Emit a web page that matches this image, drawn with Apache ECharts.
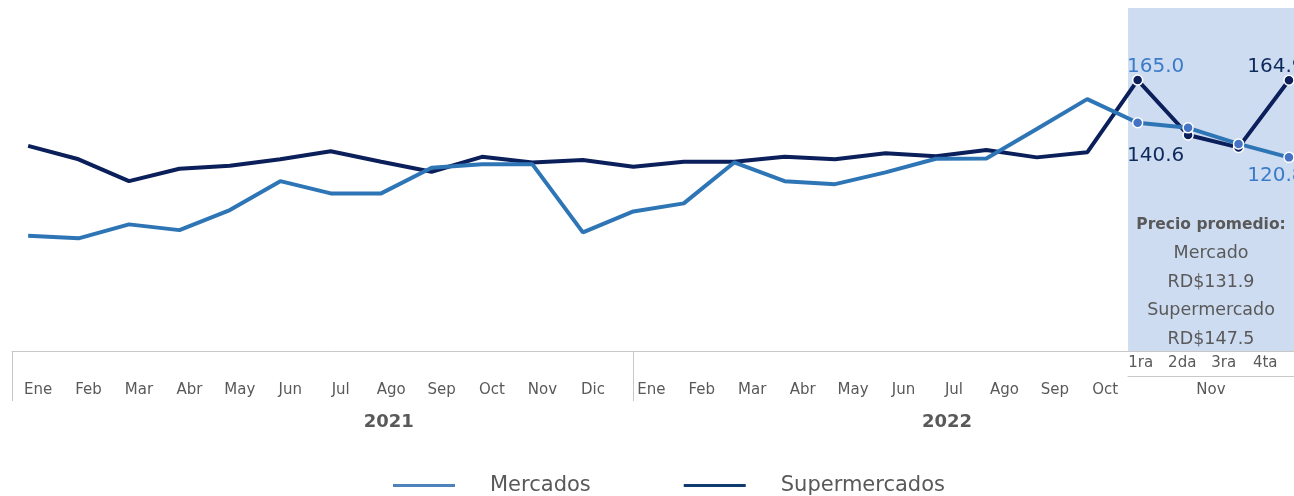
<!DOCTYPE html>
<html>
<head>
<meta charset="utf-8">
<script src="https://cdn.jsdelivr.net/npm/echarts@6/dist/echarts.min.js"></script>
<style>
	html, body { margin: 0; padding: 0; background: #fff; }
	#main { width: 1294px; height: 496px; }
</style>
</head>
<body>
<div id="main"></div>
<script type="text/javascript">
// etiquetas del eje
var meses2021 = ['Ene','Feb','Mar','Abr','May','Jun','Jul','Ago','Sep','Oct','Nov','Dic'];
var meses2022 = ['Ene','Feb','Mar','Abr','May','Jun','Jul','Ago','Sep','Oct'];
var semanas = ['1ra','2da','3ra','4ta'];
var mesSemanas = ['Nov'];
var anios = ['2021','2022'];

// precios (mensual 2021, mensual 2022, semanas de nov)
var mercados = [76.0, 74.5, 82.5, 79.2, 90.7, 107.2, 100.2, 100.2, 114.9, 116.8, 116.8, 77.9,
	89.9, 94.5, 117.9, 107.2, 105.5, 112.2, 120.0, 120.2, 137.0, 154.1,
	140.6, 137.7, 128.5, 120.8];
var supermercados = [127.4, 119.7, 107.2, 114.3, 116.0, 119.7, 124.3, 118.3, 112.6, 121.1, 117.9, 119.3,
	115.4, 118.3, 118.3, 121.1, 119.7, 123.1, 121.5, 125.0, 120.8, 123.7,
	165.0, 133.6, 126.5, 164.9];

// precio promedio
var promedioNombres = ['Mercado', 'Supermercado'];
var promedioValores = [131.9, 147.5];

var nMeses = meses2021.length + meses2022.length;
var gris = '#595959';
var fuente = 'DejaVu Sans';

function armarSerie(valores, colorPunto, etiquetas) {
	return valores.map(function (v, i) {
		if (i < nMeses) return [i, v];
		var item = {
			value: [i, v],
			symbol: 'circle',
			symbolSize: 10,
			itemStyle: { color: colorPunto, borderColor: '#fff', borderWidth: 1.5 }
		};
		var lab = etiquetas[i - nMeses];
		if (lab) item.label = lab;
		return item;
	});
}

var etiqSuper = {
	0: { show: true, position: 'top', color: '#3a7cc9', offset: [18, 7] },
	3: { show: true, position: 'top', color: '#0e2a5c', offset: [-13, 7] }
};
var etiqMerc = {
	0: { show: true, position: 'bottom', color: '#0e2a5c', offset: [18, 12] },
	3: { show: true, position: 'bottom', color: '#3a7cc9', offset: [-13, -2] }
};

var myChart = echarts.init(document.getElementById('main'));
var option = {
	animation: false,
	textStyle: { fontFamily: fuente },
	grid: [
		{ left: 12, right: 0, top: 8, bottom: 145 },
		{ left: 1128, right: 0, top: 351, bottom: 120 }
	],
	xAxis: [
		{
			type: 'value', gridIndex: 0, min: -0.32, max: 25.1,
			splitLine: { show: false },
			axisLine: { show: true, onZero: false, lineStyle: { color: '#c8c8c8', width: 1 } },
			axisTick: { show: true, customValues: [-0.32, 12], length: 50, inside: false, lineStyle: { color: '#c8c8c8' } },
			axisLabel: {
				customValues: meses2021.map(function (m, i) { return i; }).concat(meses2022.map(function (m, i) { return i + 12; })),
				margin: 32,
				formatter: function (v) {
					return v < 12 ? '{a|' + meses2021[v] + '}' : '{b|' + meses2022[v - 12] + '}';
				},
				rich: {
					a: { fontSize: 15, color: gris, fontFamily: fuente, padding: [0, 0, 0, 20] },
					b: { fontSize: 15, color: gris, fontFamily: fuente, padding: [0, 0, 0, 36] }
				}
			}
		},
		{
			type: 'value', gridIndex: 0, min: -0.32, max: 25.1, position: 'bottom',
			splitLine: { show: false },
			axisLine: { show: false },
			axisTick: { show: false },
			axisLabel: {
				customValues: [7.15, 18.22],
				margin: 62,
				fontSize: 18, fontWeight: 'bold', color: gris, fontFamily: fuente,
				formatter: function (v) { return v < 12 ? anios[0] : anios[1]; }
			}
		},
		{
			type: 'category', gridIndex: 1, data: semanas, boundaryGap: true, position: 'bottom',
			axisLine: { show: true, onZero: false, lineStyle: { color: '#c8c8c8' } },
			axisTick: { show: false },
			axisLabel: { inside: true, margin: 5, fontSize: 15, color: gris, fontFamily: fuente, padding: [0, 16, 0, 0] }
		},
		{
			type: 'category', gridIndex: 1, data: mesSemanas, boundaryGap: true, position: 'bottom',
			axisLine: { show: false },
			axisTick: { show: false },
			axisLabel: { margin: 7, fontSize: 15, color: gris, fontFamily: fuente }
		}
	],
	yAxis: [
		{ type: 'value', gridIndex: 0, min: 10.1, max: 206.2, show: false },
		{ type: 'value', gridIndex: 1, show: false }
	],
	legend: {
		left: 388, top: 470,
		icon: 'rect', itemWidth: 62, itemHeight: 3, itemGap: 93,
		textStyle: { fontSize: 21, color: gris, fontFamily: fuente, padding: [0, 0, 0, 30] },
		data: [
			{ name: 'Mercados', itemStyle: { color: '#4f81bd' } },
			{ name: 'Supermercados', itemStyle: { color: '#0f3b6e' } }
		]
	},
	series: [
		{
			name: 'Supermercados', type: 'line', xAxisIndex: 0, yAxisIndex: 0,
			symbol: 'none', clip: false,
			lineStyle: { color: '#0b1f5b', width: 4 },
			itemStyle: { color: '#0b1f5b' },
			label: { fontSize: 20, fontFamily: fuente, formatter: function (p) { return p.value[1].toFixed(1); } },
			data: armarSerie(supermercados, '#0b1f5b', etiqSuper),
			markArea: {
				silent: true,
				itemStyle: { color: '#cedcf1' },
				label: {
					show: true,
					position: ['50%', 203],
					align: 'center',
					verticalAlign: 'top',
					formatter: function () {
						return '{t|Precio promedio:}\n' +
							'{n|' + promedioNombres[0] + '}\n{n|RD$' + promedioValores[0].toFixed(1) + '}\n' +
							'{n|' + promedioNombres[1] + '}\n{n|RD$' + promedioValores[1].toFixed(1) + '}';
					},
					rich: {
						t: { fontSize: 15.5, fontWeight: 'bold', color: gris, fontFamily: fuente, lineHeight: 28.5, align: 'center' },
						n: { fontSize: 17.5, color: gris, fontFamily: fuente, lineHeight: 28.5, align: 'center' }
					}
				},
				data: [[{ xAxis: 21.81 }, { xAxis: 25.1 }]]
			}
		},
		{
			name: 'Mercados', type: 'line', xAxisIndex: 0, yAxisIndex: 0,
			symbol: 'none', clip: false,
			lineStyle: { color: '#2e75b6', width: 4 },
			itemStyle: { color: '#2e75b6' },
			label: { fontSize: 20, fontFamily: fuente, formatter: function (p) { return p.value[1].toFixed(1); } },
			data: armarSerie(mercados, '#4472c4', etiqMerc)
		}
	]
};
myChart.setOption(option);
</script>
</body>
</html>
